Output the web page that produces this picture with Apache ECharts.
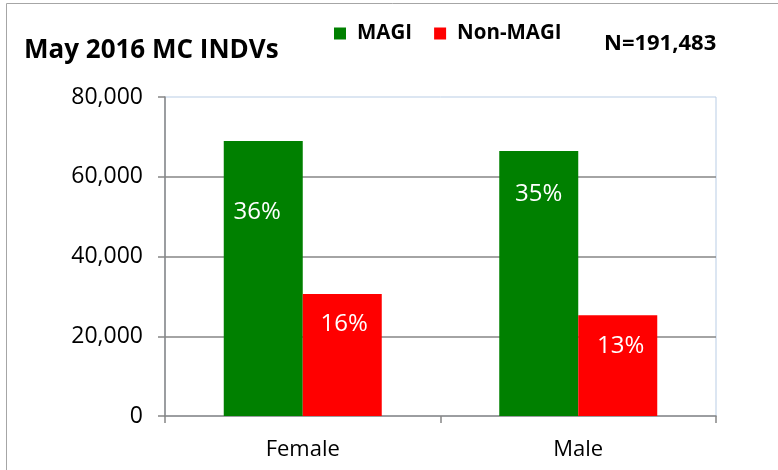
<!DOCTYPE html>
<html>
<head>
<meta charset="utf-8">
<title>May 2016 MC INDVs</title>
<script src="https://cdn.jsdelivr.net/npm/echarts@6/dist/echarts.min.js"></script>
<style>
  html, body { margin: 0; padding: 0; background: #fff; }
  #chart { width: 778px; height: 470px; }
</style>
</head>
<body>
<div id="chart"></div>
<script>
// 数据
const categories = ['Female', 'Male'];
const magiValues = [68950, 66450];
const nonMagiValues = [30600, 25250];
const magiPct = ['36%', '35%'];
const nonMagiPct = ['16%', '13%'];
const totalN = 'N=191,483';

// label placement inside bars (dx, distance from bar top)
const magiLabelPos = [[-6, 59], [0, 31]];
const nonMagiLabelPos = [[2, 18], [3, 19]];

const FONT = 'Open Sans';

const buildItems = (values, pcts, pos) => values.map((v, i) => ({
  value: v,
  label: {
    formatter: pcts[i],
    distance: pos[i][1],
    offset: [pos[i][0], 0]
  }
}));

const chart = echarts.init(document.getElementById('chart'));

const barLabel = {
  show: true,
  position: 'insideTop',
  color: '#fff',
  fontFamily: FONT,
  fontSize: 24
};

chart.setOption({
  animation: false,
  textStyle: { fontFamily: FONT },
  graphic: [{
    type: 'rect',
    silent: true,
    shape: { x: 6.5, y: 3.5, width: 820, height: 520 },
    style: { fill: 'none', stroke: '#a6a6a6', lineWidth: 1 }
  }],
  title: [{
    text: 'May 2016 MC INDVs',
    left: 24,
    top: 38,
    padding: 0,
    textStyle: { fontFamily: FONT, fontSize: 26, fontWeight: 'bold', color: '#000' }
  }, {
    text: totalN,
    left: 604,
    top: 33,
    padding: 0,
    textStyle: { fontFamily: FONT, fontSize: 22, fontWeight: 'bold', color: '#000' }
  }],
  legend: {
    left: 334,
    top: 23,
    padding: 0,
    icon: 'rect',
    itemWidth: 12,
    itemHeight: 12,
    itemGap: 22,
    textStyle: { fontFamily: FONT, fontSize: 20.5, fontWeight: 'bold', color: '#000', padding: [0, 0, 0, 6] },
    data: ['MAGI', 'Non-MAGI']
  },
  grid: {
    left: 165,
    top: 97,
    width: 551,
    height: 319,
    show: true,
    borderColor: '#b9cde5',
    borderWidth: 1,
    containLabel: false
  },
  xAxis: {
    type: 'category',
    data: categories,
    axisLine: { lineStyle: { color: '#868686', width: 1.5 } },
    axisTick: { show: true, length: 7, lineStyle: { color: '#868686', width: 1.5 } },
    axisLabel: { color: '#000', fontFamily: FONT, fontSize: 22, margin: 23 }
  },
  yAxis: {
    type: 'value',
    min: 0,
    max: 80000,
    interval: 20000,
    axisLine: { show: true, lineStyle: { color: '#868686', width: 1.5 } },
    axisTick: { show: true, length: 7, lineStyle: { color: '#868686', width: 1.5 } },
    splitLine: { show: true, showMinLine: false, showMaxLine: false, lineStyle: { color: '#868686', width: 1.5 } },
    axisLabel: {
      color: '#000',
      fontFamily: FONT,
      fontSize: 23,
      margin: 22,
      formatter: (v) => v.toLocaleString('en-US')
    }
  },
  series: [{
    name: 'MAGI',
    type: 'bar',
    barWidth: 79,
    barGap: '0%',
    itemStyle: { color: '#008000' },
    label: barLabel,
    data: buildItems(magiValues, magiPct, magiLabelPos)
  }, {
    name: 'Non-MAGI',
    type: 'bar',
    barWidth: 79,
    barGap: '0%',
    itemStyle: { color: '#ff0000' },
    label: barLabel,
    data: buildItems(nonMagiValues, nonMagiPct, nonMagiLabelPos)
  }]
});
</script>
</body>
</html>
